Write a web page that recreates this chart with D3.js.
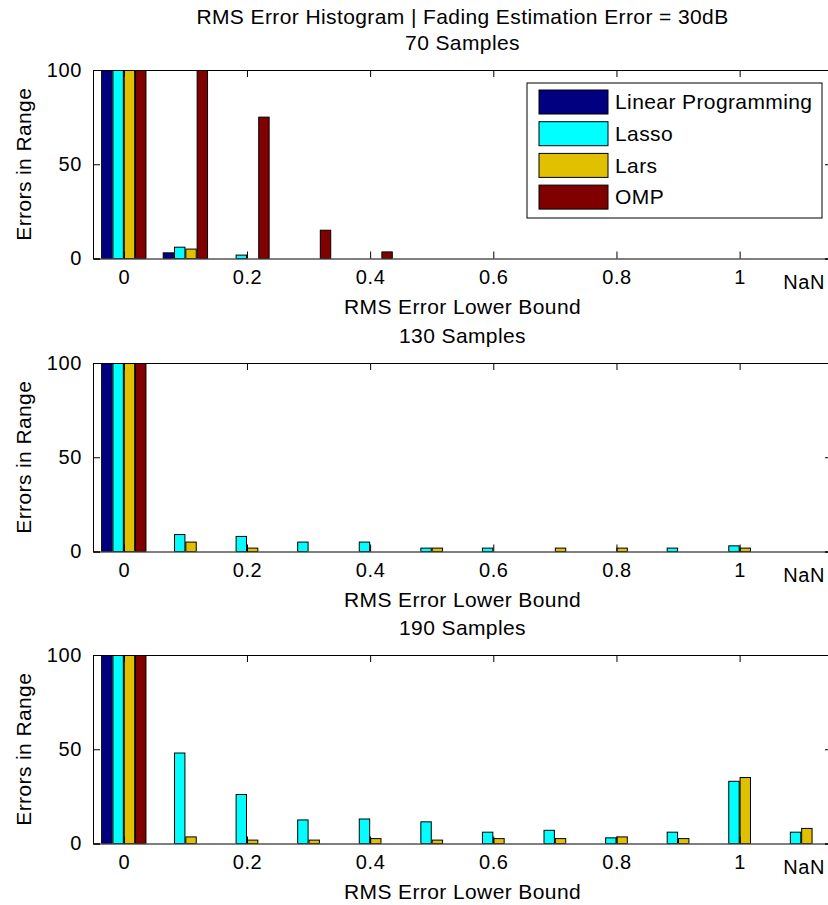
<!DOCTYPE html>
<html>
<head>
<meta charset="utf-8">
<script src="https://cdn.jsdelivr.net/npm/d3@7"></script>
<style>
  body { margin: 0; background: #fff; }
  svg text { font-family: "Liberation Sans", Arial, sans-serif; fill: #000; }
  .tick-label { font-size: 20px; letter-spacing: 0.6px; }
  .label { font-size: 21px; letter-spacing: 0.4px; }
  .legend-text { font-size: 21px; letter-spacing: 0.4px; }
</style>
</head>
<body>
<div id="chart"></div>
<script>
// categories (bin lower bounds) and where they sit on the x axis
const categories = ["0", "0.1", "0.2", "0.3", "0.4", "0.5", "0.6", "0.7", "0.8", "0.9", "1", "NaN"];
const binPos = [0, 0.1, 0.2, 0.3, 0.4, 0.5, 0.6, 0.7, 0.8, 0.9, 1.0, 1.1];
const xTickValues = [0, 0.2, 0.4, 0.6, 0.8, 1];
const yTickValues = [0, 50, 100];

const seriesNames = ["Linear Programming", "Lasso", "Lars", "OMP"];
const seriesColors = ["#000080", "#00ffff", "#e0c000", "#800000"];

// 70 samples
const lp70    = [100, 3, 0, 0, 0, 0, 0, 0, 0, 0, 0, 0];
const lasso70 = [100, 6, 1.8, 0, 0, 0, 0, 0, 0, 0, 0, 0];
const lars70  = [100, 5, 0, 0, 0, 0, 0, 0, 0, 0, 0, 0];
const omp70   = [100, 100, 75, 15, 3.5, 0, 0, 0, 0, 0, 0, 0];

// 130 samples
const lp130    = [100, 0, 0, 0, 0, 0, 0, 0, 0, 0, 0, 0];
const lasso130 = [100, 9, 8, 5, 5, 1.8, 1.8, 0, 0, 1.8, 3, 0];
const lars130  = [100, 5, 1.8, 0, 0, 1.8, 0, 1.8, 1.8, 0, 1.8, 0];
const omp130   = [100, 0, 0, 0, 0, 0, 0, 0, 0, 0, 0, 0];

// 190 samples
const lp190    = [100, 0, 0, 0, 0, 0, 0, 0, 0, 0, 0, 0];
const lasso190 = [100, 48, 26, 12.5, 13, 11.5, 6, 7, 3, 6, 33, 6];
const lars190  = [100, 3.5, 1.8, 1.8, 2.6, 1.8, 2.6, 2.6, 3.5, 2.6, 35, 8];
const omp190   = [100, 0, 0, 0, 0, 0, 0, 0, 0, 0, 0, 0];

const panelTitles = ["70 Samples", "130 Samples", "190 Samples"];
const panelSeries = [
  [lp70, lasso70, lars70, omp70],
  [lp130, lasso130, lars130, omp130],
  [lp190, lasso190, lars190, omp190]
];

// layout
const W = 828, H = 905;
const plotLeft = 93, plotWidth = 739;
const plotTops = [70, 363, 655];
const plotHeight = 188.5;

const svg = d3.select("#chart")
  .append("svg")
    .attr("width", W)
    .attr("height", H);

// overall title
svg.append("text")
    .attr("class", "label")
    .attr("x", plotLeft + plotWidth / 2)
    .attr("y", 24)
    .attr("text-anchor", "middle")
  .text("RMS Error Histogram | Fading Estimation Error = 30dB");

const x = d3.scaleLinear()
    .domain([-0.05, 1.15])
    .range([0, plotWidth]);

// bars inside a group, matlab style grouped bars
const groupHalf = 0.036;
const inner = d3.scaleBand()
    .domain(seriesNames)
    .range([x(-groupHalf) - x(0), x(groupHalf) - x(0)])
    .paddingInner(0.08);

const y = d3.scaleLinear()
    .domain([0, 100])
    .range([plotHeight, 0]);

panelSeries.forEach(function(series, p) {
  const g = svg.append("g")
      .attr("transform", `translate(${plotLeft}, ${plotTops[p]})`);

  // sub title
  g.append("text")
      .attr("class", "label")
      .attr("x", plotWidth / 2)
      .attr("y", -20)
      .attr("text-anchor", "middle")
    .text(panelTitles[p]);

  g.append("clipPath")
      .attr("id", "clip" + p)
    .append("rect")
      .attr("width", plotWidth)
      .attr("height", plotHeight);

  const bars = [];
  series.forEach(function(vals, s) {
    vals.forEach(function(v, i) {
      if (v > 0) bars.push({series: seriesNames[s], color: seriesColors[s], pos: binPos[i], value: v});
    });
  });

  g.append("g")
      .attr("clip-path", `url(#clip${p})`)
    .selectAll("rect")
    .data(bars)
    .enter()
    .append("rect")
      .attr("x", function(d) { return x(d.pos) + inner(d.series); })
      .attr("y", function(d) { return y(d.value); })
      .attr("width", inner.bandwidth())
      .attr("height", function(d) { return y(0) - y(d.value); })
      .attr("fill", function(d) { return d.color; })
      .attr("stroke", "#000")
      .attr("stroke-width", 1);

  // axes, ticks pointing inwards
  g.append("g")
      .attr("transform", `translate(0, ${plotHeight})`)
      .call(d3.axisBottom(x).tickValues(xTickValues).tickSize(-7).tickPadding(11)
        .tickFormat(function(d) { return d3.format("")(d); }))
      .call(function(a) { a.selectAll("text").attr("class", "tick-label").attr("font-size", null).attr("font-family", null); });

  g.append("g")
      .call(d3.axisTop(x).tickValues(xTickValues).tickSize(-7).tickFormat(""));

  g.append("g")
      .call(d3.axisLeft(y).tickValues(yTickValues).tickSize(-7).tickPadding(11))
      .call(function(a) { a.selectAll("text").attr("class", "tick-label").attr("font-size", null).attr("font-family", null); });

  g.append("g")
      .attr("transform", `translate(${plotWidth}, 0)`)
      .call(d3.axisRight(y).tickValues(yTickValues).tickSize(-7).tickFormat(""));

  g.selectAll(".domain").attr("stroke", "#000");
  g.selectAll(".tick line").attr("stroke", "#000");

  // NaN bin label
  g.append("text")
      .attr("class", "tick-label")
      .attr("x", x(binPos[11]) + 3)
      .attr("y", plotHeight + 30)
      .attr("text-anchor", "middle")
    .text(categories[11]);

  // x label
  g.append("text")
      .attr("class", "label")
      .attr("x", plotWidth / 2)
      .attr("y", plotHeight + 55)
      .attr("text-anchor", "middle")
    .text("RMS Error Lower Bound");

  // y label
  g.append("text")
      .attr("class", "label")
      .attr("transform", `translate(${-plotLeft + 31}, ${plotHeight / 2}) rotate(-90)`)
      .attr("text-anchor", "middle")
    .text("Errors in Range");
});

// legend in the first panel
const legend = svg.append("g")
    .attr("transform", "translate(527, 83)");

legend.append("rect")
    .attr("width", 295)
    .attr("height", 135)
    .attr("fill", "#fff")
    .attr("stroke", "#000");

const item = legend.selectAll(".item")
    .data(seriesNames)
    .enter()
    .append("g")
      .attr("transform", function(d, i) { return `translate(12, ${7 + i * 31.7})`; });

item.append("rect")
    .attr("width", 69)
    .attr("height", 24)
    .attr("fill", function(d, i) { return seriesColors[i]; })
    .attr("stroke", "#000");

item.append("text")
    .attr("class", "legend-text")
    .attr("x", 76)
    .attr("y", 12)
    .attr("dy", "0.35em")
  .text(function(d) { return d; });
</script>
</body>
</html>
